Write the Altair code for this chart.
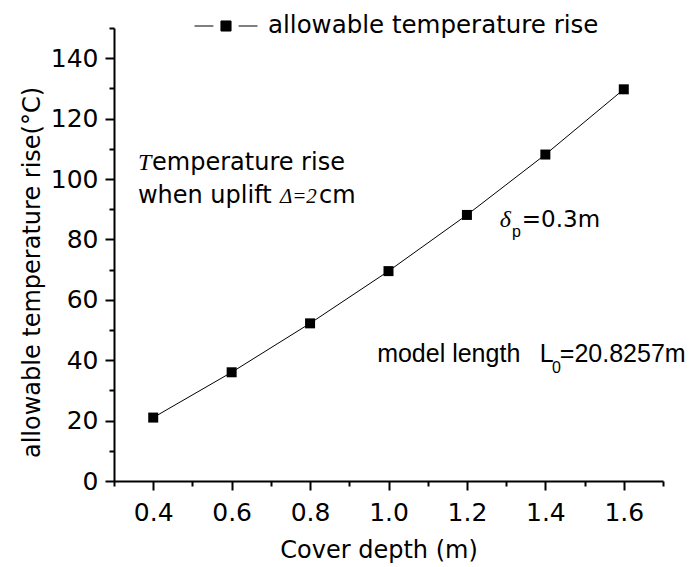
import altair as alt
import pandas as pd

# ---- data ----
depth = [0.4, 0.6, 0.8, 1.0, 1.2, 1.4, 1.6]
rise = [21.0, 36.0, 52.2, 69.5, 88.1, 108.1, 129.7]
series_name = "allowable temperature rise"

x_major = [0.4, 0.6, 0.8, 1.0, 1.2, 1.4, 1.6]
x_minor = [0.3, 0.5, 0.7, 0.9, 1.1, 1.3, 1.5, 1.7]
y_major = [0, 20, 40, 60, 80, 100, 120, 140]
y_minor = [10, 30, 50, 70, 90, 110, 130, 150]

# annotations (data coordinates)
ann_sans_text = ["emperature rise", "when uplift ", "cm"]
ann_sans_x = [0.397, 0.361, 0.823]
ann_sans_y = [103.0, 92.05, 92.05]

ann_serif_text = ["T", "\u03b4"]
ann_serif_x = [0.361, 1.284]
ann_serif_y = [103.0, 84.1]

ann_serif_small_text = ["\u0394=2"]
ann_serif_small_x = [0.723]
ann_serif_small_y = [92.05]

ann_delta_text = ["=0.3m"]
ann_delta_x = [1.340]
ann_delta_y = [84.1]

ann_model_text = ["model length", "L", "=20.8257m"]
ann_model_x = [0.971, 1.386, 1.437]
ann_model_y = [39.3, 39.3, 39.3]

ann_sub_text = ["p", "0"]
ann_sub_x = [1.315, 1.417]
ann_sub_y = [80.8, 35.6]

df = pd.DataFrame({"depth": depth, "rise": rise, "series": [series_name] * len(depth)})

SANS = "DejaVu Sans"
ARIAL = "Liberation Sans"
SERIF = "Liberation Serif"

xscale = alt.Scale(domain=[0.3, 1.7], nice=False, zero=False)
yscale = alt.Scale(domain=[0, 150], nice=False, zero=False)

x_axis = alt.Axis(
    orient="bottom", values=x_major, format=".1f", grid=False,
    labelFont=SANS, labelFontSize=25, labelColor="black", labelPadding=10,
    labelFlush=False, labelOverlap=False,
    tickSize=9, tickWidth=2, tickColor="black",
    domainColor="black", domainWidth=2,
    title="Cover depth (m)", titleFont=SANS, titleFontSize=24, titleFontWeight="normal",
    titleColor="black", titleX=264.5, titleY=76, titleAlign="center", titleBaseline="alphabetic",
)
y_axis = alt.Axis(
    orient="left", values=y_major, format="d", grid=False,
    labelFont=SANS, labelFontSize=25, labelColor="black", labelPadding=7,
    labelFlush=False, labelOverlap=False,
    tickSize=9, tickWidth=2, tickColor="black",
    domainColor="black", domainWidth=2,
    title="allowable temperature rise(\u00b0C)", titleFont=SANS, titleFontSize=24,
    titleFontWeight="normal", titleColor="black", titleAngle=270,
    titleX=-75, titleY=244, titleAlign="center", titleBaseline="alphabetic",
)
x_minor_axis = alt.Axis(orient="bottom", values=x_minor, labels=False, domain=False, grid=False,
                        tickSize=5, tickWidth=2, tickColor="black", title=None)
y_minor_axis = alt.Axis(orient="left", values=y_minor, labels=False, domain=False, grid=False,
                        tickSize=5, tickWidth=2, tickColor="black", title=None)

base = alt.Chart(df)

minor = base.mark_point(opacity=0).encode(
    x=alt.X("depth:Q", scale=xscale, axis=x_minor_axis),
    y=alt.Y("rise:Q", scale=yscale, axis=y_minor_axis),
)

line = base.mark_line(color="black", strokeWidth=1).encode(
    x=alt.X("depth:Q", scale=xscale, axis=x_axis),
    y=alt.Y("rise:Q", scale=yscale, axis=y_axis),
)

legend_path = "M-1,0L-0.4,0M0.4,0L1,0M-0.16,-0.16L0.16,-0.16L0.16,0.16L-0.16,0.16Z"

points = base.mark_point(shape="square", filled=True, size=100, opacity=1).encode(
    x=alt.X("depth:Q", scale=xscale, axis=None),
    y=alt.Y("rise:Q", scale=yscale, axis=None),
    color=alt.Color(
        "series:N",
        scale=alt.Scale(range=["black"]),
        legend=alt.Legend(
            title=None, orient="none", legendX=80, legendY=-34, padding=0,
            symbolType=legend_path, symbolSize=3969, symbolStrokeWidth=1,
            symbolFillColor="black", symbolStrokeColor="black", symbolOpacity=1,
            labelFont=SANS, labelFontSize=24.5, labelColor="black", labelOffset=10,
            labelLimit=0,
        ),
    ),
)


def text_layer(texts, xs, ys, font, size, style="normal"):
    d = pd.DataFrame({"x": xs, "y": ys, "t": texts})
    return alt.Chart(d).mark_text(
        align="left", baseline="alphabetic", font=font, fontSize=size,
        fontStyle=style, color="black",
    ).encode(
        x=alt.X("x:Q", scale=xscale, axis=None),
        y=alt.Y("y:Q", scale=yscale, axis=None),
        text="t:N",
    )


t1 = text_layer(ann_sans_text, ann_sans_x, ann_sans_y, SANS, 24)
t2 = text_layer(ann_serif_text, ann_serif_x, ann_serif_y, SERIF, 24, "italic")
t2b = text_layer(ann_serif_small_text, ann_serif_small_x, ann_serif_small_y, SERIF, 21, "italic")
t3 = text_layer(ann_delta_text, ann_delta_x, ann_delta_y, SANS, 23)
t4 = text_layer(ann_model_text, ann_model_x, ann_model_y, ARIAL, 25)
t5 = text_layer(ann_sub_text, ann_sub_x, ann_sub_y, ARIAL, 16)

chart = alt.layer(minor, line, points, t1, t2, t2b, t3, t4, t5).resolve_axis(
    x="independent", y="independent"
).properties(
    width=549, height=453,
    padding={"left": 114, "top": 28, "right": 34, "bottom": 86},
    autosize=alt.AutoSizeParams(type="none"),
    background="white",
).configure_view(stroke=None)

chart.save("out.html", embed_options={"renderer": "svg", "actions": False})
